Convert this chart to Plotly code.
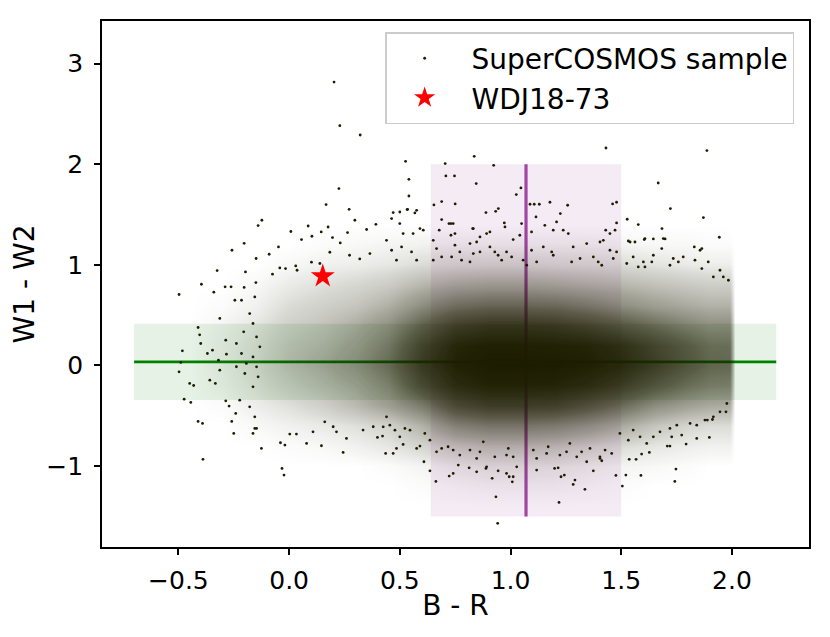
import plotly.graph_objects as go

# ---------------- data ----------------
# smoothed point density of the SuperCOSMOS cloud (fraction of area covered by points)
dens_br = [-0.6, -0.45, -0.3, -0.15, 0.0, 0.15, 0.3, 0.45, 0.6, 0.75, 0.9, 1.05,
           1.2, 1.35, 1.5, 1.65, 1.8, 1.9, 1.99, 2.01]
dens_w = [-1.4, -1.2, -1.0, -0.8, -0.6, -0.4, -0.2, 0.0, 0.2, 0.4, 0.6, 0.8,
          1.0, 1.2, 1.4, 1.6]
dens_cover = [
    [0, 0, 0, 0, 0, 0, 0, 0, 0, 0, 0, 0, 0, 0, 0, 0, 0, 0, 0, 0],
    [0, 0, 0, 0, 0, 0, 0, 0, 0.01, 0.02, 0.03, 0.03, 0.03, 0.02, 0.01, 0, 0, 0, 0, 0],
    [0, 0, 0, 0, 0, 0, 0, 0.01, 0.03, 0.06, 0.08, 0.08, 0.07, 0.05, 0.03, 0.02, 0.01, 0, 0, 0],
    [0, 0, 0, 0, 0.01, 0.02, 0.04, 0.07, 0.12, 0.18, 0.22, 0.22, 0.2, 0.15, 0.1, 0.07, 0.05, 0.04, 0.04, 0],
    [0, 0, 0, 0.02, 0.04, 0.06, 0.09, 0.13, 0.25, 0.42, 0.48, 0.48, 0.45, 0.38, 0.28, 0.18, 0.12, 0.1, 0.1, 0],
    [0, 0, 0.01, 0.05, 0.09, 0.14, 0.22, 0.33, 0.48, 0.72, 0.8, 0.8, 0.78, 0.68, 0.55, 0.4, 0.32, 0.28, 0.27, 0],
    [0, 0, 0.03, 0.08, 0.15, 0.22, 0.3, 0.44, 0.72, 0.9, 0.96, 0.96, 0.95, 0.9, 0.8, 0.65, 0.52, 0.46, 0.45, 0],
    [0, 0, 0.04, 0.1, 0.2, 0.28, 0.38, 0.54, 0.82, 0.97, 1.0, 1.0, 1.0, 0.98, 0.92, 0.8, 0.65, 0.56, 0.55, 0],
    [0, 0, 0.04, 0.09, 0.18, 0.24, 0.33, 0.48, 0.76, 0.94, 0.98, 0.98, 0.97, 0.95, 0.88, 0.75, 0.62, 0.53, 0.52, 0],
    [0, 0, 0.03, 0.07, 0.14, 0.19, 0.27, 0.39, 0.6, 0.78, 0.84, 0.84, 0.82, 0.75, 0.65, 0.55, 0.45, 0.4, 0.4, 0],
    [0, 0, 0.01, 0.04, 0.1, 0.14, 0.18, 0.26, 0.4, 0.52, 0.56, 0.56, 0.54, 0.48, 0.4, 0.33, 0.28, 0.25, 0.25, 0],
    [0, 0, 0, 0.02, 0.06, 0.09, 0.12, 0.16, 0.24, 0.3, 0.32, 0.32, 0.3, 0.27, 0.24, 0.2, 0.17, 0.15, 0.15, 0],
    [0, 0, 0, 0, 0.02, 0.04, 0.05, 0.07, 0.1, 0.12, 0.13, 0.13, 0.12, 0.11, 0.1, 0.08, 0.06, 0.05, 0.05, 0],
    [0, 0, 0, 0, 0, 0.01, 0.02, 0.03, 0.04, 0.04, 0.04, 0.04, 0.04, 0.04, 0.03, 0.02, 0.02, 0.01, 0.01, 0],
    [0, 0, 0, 0, 0, 0, 0, 0, 0, 0, 0, 0, 0, 0, 0, 0, 0, 0, 0, 0],
    [0, 0, 0, 0, 0, 0, 0, 0, 0, 0, 0, 0, 0, 0, 0, 0, 0, 0, 0, 0],
]

# individually visible points of the sample (B-R, W1-W2)
sparse_pts = [
    # upper left
    (0.203, 2.816), (0.229, 2.383), (0.321, 2.290), (0.526, 2.029), (0.541, 1.850),
    (0.225, 1.758), (0.541, 1.684), (0.167, 1.599), (0.271, 1.552), (0.535, 1.552),
    (-0.123, 1.443), (-0.140, 1.390), (0.297, 1.443), (0.470, 1.519), (0.086, 1.386),
    (0.008, 1.331), (0.145, 1.327), (0.176, 1.376), (0.264, 1.321), (0.350, 1.351),
    (0.392, 1.403), (-0.203, 1.214), (-0.258, 1.145), (0.056, 1.251), (0.103, 1.284),
    (0.196, 1.271), (0.231, 1.218), (-0.048, 1.178), (-0.149, 1.063), (-0.090, 1.105),
    (-0.325, 0.943), (-0.197, 0.929), (-0.396, 0.807), (-0.497, 0.705), (-0.340, 0.728),
    (-0.289, 0.781), (-0.262, 0.781), (-0.203, 0.775), (-0.150, 0.824), (-0.075, 0.907),
    (-0.042, 0.969), (-0.016, 0.963), (0.030, 0.989), (0.036, 0.946), (0.101, 1.026),
    (0.139, 1.013), (0.184, 1.125), (0.273, 1.095), (0.319, 1.059), (0.365, 1.112),
    # left
    (-0.482, 0.145), (-0.411, 0.377), (-0.404, 0.304), (-0.399, 0.218), (-0.369, 0.119),
    (-0.497, -0.063), (-0.489, 0.030), (-0.449, -0.179), (-0.431, -0.199), (-0.474, -0.335),
    (-0.444, -0.367), (-0.411, -0.556), (-0.391, -0.576), (-0.389, -0.933), (-0.346, 0.152),
    (-0.313, 0.467), (-0.286, 0.251), (-0.250, -0.675), (-0.259, -0.556), (-0.286, -0.351),
    (-0.271, -0.404), (-0.333, -0.179), (-0.358, -0.146), (-0.313, -0.047), (-0.319, 0.053),
    (-0.283, 0.112), (-0.241, -0.477), (-0.223, -0.345), (-0.200, -0.080), (-0.238, -0.013),
    (-0.193, 0.020), (-0.215, 0.119), (-0.238, 0.218), (-0.205, 0.334), (-0.155, -0.510),
    (-0.155, -0.626), (-0.125, -0.824), (-0.178, -0.411), (-0.163, -0.212), (-0.140, -0.113),
    (-0.147, -0.014), (-0.163, 0.085), (-0.132, 0.185), (-0.147, 0.284), (-0.163, 0.417),
    (-0.178, 0.516), (-0.245, 0.648), (-0.215, 0.648), (-0.155, 0.681), (-0.032, -1.023),
    (-0.023, -1.089),
    # lower left
    (-0.039, -0.768), (-0.019, -0.791), (0.079, -0.775), (0.146, -0.798), (0.244, -0.864),
    (0.436, -0.874), (0.470, -0.874), (0.485, -0.824), (0.515, -0.785), (0.003, -0.682),
    (0.033, -0.682), (0.108, -0.659), (0.214, -0.659), (0.259, -0.725), (0.399, -0.715),
    (0.161, -0.560), (0.334, -0.642), (0.380, -0.609), (0.199, -0.609), (-0.163, -0.675),
    (-0.147, -0.626),
    # upper right
    (1.431, 2.161), (1.887, 2.135), (0.836, 2.078), (0.705, 2.006), (0.924, 1.989),
    (0.708, 1.883), (0.747, 1.883), (0.845, 1.807), (1.667, 1.813), (1.047, 1.764),
    (1.026, 1.698), (0.689, 1.629), (0.654, 1.595), (0.750, 1.605), (1.088, 1.602),
    (1.107, 1.602), (1.130, 1.602), (1.178, 1.622), (1.258, 1.592), (1.461, 1.605),
    (1.479, 1.622), (1.722, 1.559), (1.871, 1.470), (1.943, 1.274), (0.889, 1.519),
    (0.933, 1.532), (1.225, 1.509), (1.115, 1.476), (1.527, 1.453), (1.684, 1.360),
    (1.645, 1.257), (1.604, 1.251), (1.698, 1.257), (0.972, 1.416), (0.829, 1.360),
    (0.731, 1.410), (1.208, 1.426), (1.238, 1.344), (1.430, 1.344), (1.472, 1.344),
    (1.830, 1.178), (1.864, 1.162), (1.540, 1.227), (0.463, 1.460), (0.500, 1.525),
    (0.533, 1.549), (0.568, 1.516), (0.576, 1.542), (1.577, 1.400), (1.690, 1.261),
    (1.532, 1.237), (1.562, 1.227), (1.607, 1.261),
    # upper intermediate zone
    (0.689, 1.450), (0.722, 1.410), (0.741, 1.410), (0.678, 1.344), (0.749, 1.311),
    (0.731, 1.294), (0.832, 1.360), (0.945, 1.559), (0.975, 1.377), (0.892, 1.311),
    (0.907, 1.327), (0.862, 1.277), (0.847, 1.227), (1.012, 1.251), (1.042, 1.294),
    (1.050, 1.410), (1.095, 1.327), (1.155, 1.393), (1.193, 1.344), (1.261, 1.311),
    (1.283, 1.178), (1.344, 1.211), (1.314, 1.063), (1.276, 1.029), (1.404, 1.227),
    (1.419, 1.244), (1.449, 1.311), (1.479, 1.416), (1.449, 1.145), (1.479, 1.128),
    (1.464, 1.063), (1.374, 1.079), (1.396, 1.029), (1.412, 0.996), (1.095, 1.145),
    (1.148, 1.178), (1.186, 1.128), (1.193, 1.095), (1.057, 1.046), (1.073, 0.996),
    (1.118, 1.029), (0.982, 1.128), (1.005, 1.079), (0.907, 1.178), (0.929, 1.128),
    (0.944, 1.095), (0.960, 1.046), (0.817, 1.211), (0.832, 1.112), (0.862, 1.128),
    (0.817, 1.029), (0.749, 1.195), (0.771, 1.128), (0.779, 1.046), (0.734, 1.079),
    (0.651, 1.244), (0.666, 1.162), (0.689, 1.079), (0.651, 1.046), (0.591, 1.360),
    (0.606, 1.344), (0.560, 1.311), (0.500, 1.410), (0.515, 1.311), (0.440, 1.244),
    (0.463, 1.145), (0.508, 1.178), (0.553, 1.128), (0.576, 1.046), (0.485, 1.046),
    (1.645, 1.095), (1.638, 1.029), (1.607, 0.979), (1.683, 1.162), (1.735, 1.063),
    (1.758, 1.029), (1.780, 1.079), (1.720, 0.996), (1.856, 1.145), (1.833, 1.046),
    (1.864, 0.963), (1.893, 1.029), (1.946, 0.946), (1.961, 0.880), (1.984, 0.847),
    (1.916, 0.880), (1.554, 1.079), (1.525, 1.013), (1.577, 0.979), (1.600, 1.029),
    # lower right
    (0.942, -1.569), (0.934, -1.305), (1.219, -1.361), (1.336, -1.231), (1.283, -1.182),
    (1.291, -1.139), (0.663, -1.152), (0.723, -1.099), (0.741, -1.073), (0.636, -1.047),
    (0.609, -0.957), (0.917, -1.122), (1.008, -1.156), (1.012, -1.106), (0.994, -1.106),
    (1.228, -1.106), (1.243, -1.089), (1.476, -1.093), (1.505, -1.199), (1.521, -1.089),
    (1.589, -1.093), (1.747, -1.030), (1.742, -1.152), (1.708, -0.801), (1.720, -0.801),
    (1.841, -0.725), (1.898, -0.715), (1.793, -0.781), (1.627, -0.864), (1.592, -0.881),
    (1.567, -0.933), (1.536, -0.933), (1.457, -0.874), (1.412, -0.947), (0.422, -0.702),
    (0.889, -1.023), (0.813, -1.017), (0.847, -1.057), (0.764, -0.990), (0.944, -1.047),
    (0.982, -1.073), (1.199, -1.023), (1.215, -1.017), (1.118, -1.040), (1.374, -1.047),
    (1.404, -0.924), (1.973, -0.461), (1.912, -0.537), (1.889, -0.543), (1.728, -0.709),
    # lower intermediate zone
    (0.440, -0.510), (0.455, -0.593), (0.425, -0.610), (0.478, -0.643), (0.500, -0.709),
    (0.523, -0.626), (0.546, -0.643), (0.576, -0.824), (0.591, -0.801), (0.613, -0.675),
    (0.636, -0.742), (0.666, -0.858), (0.689, -0.824), (0.718, -0.808), (0.741, -0.841),
    (0.771, -0.891), (0.817, -0.841), (0.847, -0.924), (0.862, -0.858), (0.877, -0.759),
    (0.892, -1.007), (0.929, -0.908), (0.982, -0.891), (0.990, -0.824), (1.012, -0.908),
    (1.028, -1.007), (1.103, -0.841), (1.118, -0.924), (1.163, -0.874), (1.170, -0.808),
    (1.223, -0.891), (1.253, -0.858), (1.268, -0.775), (1.299, -0.908), (1.321, -0.858),
    (1.344, -0.957), (1.359, -0.824), (1.404, -0.908), (1.427, -0.841), (1.494, -0.675),
    (1.532, -0.742), (1.554, -0.642), (1.585, -0.709), (1.615, -0.775), (1.645, -0.709),
    (1.675, -0.659), (1.720, -0.626), (1.751, -0.593), (1.773, -0.692), (1.811, -0.576),
    (1.841, -0.593), (1.878, -0.543), (1.916, -0.510), (1.946, -0.461), (1.977, -0.378),
]
sparse_br = [p[0] for p in sparse_pts]
sparse_w = [p[1] for p in sparse_pts]

# target
target_name = "WDJ18-73"
target_br = [0.152]
target_w = [0.887]

# reference regions
wise_mean = 0.035      # W1-W2 mean
wise_half = 0.379      # half width of W1-W2 band
wise_br_span = [-0.7, 2.2]
br_mean = 1.07         # B-R mean
br_half = 0.43         # half width of B-R band
br_w_span = [-1.5, 2.0]

x_ticks = [-0.5, 0.0, 0.5, 1.0, 1.5, 2.0]
x_ticklabels = ["\u22120.5", "0.0", "0.5", "1.0", "1.5", "2.0"]
y_ticks = [-1, 0, 1, 2, 3]
y_ticklabels = ["\u22121", "0", "1", "2", "3"]

# ---------------- figure ----------------
FONT = "DejaVu Sans"
DOT = "rgb(28,28,0)"
NB = "\u00a0"

fig = go.Figure()

fig.add_trace(go.Heatmap(
    x=dens_br, y=dens_w, z=dens_cover, zmin=0, zmax=1, zsmooth="best",
    colorscale=[[0, "rgba(28,28,0,0)"], [0.1, "rgba(28,28,0,0.16)"],
                [0.3, "rgba(28,28,0,0.4)"], [0.6, "rgba(28,28,0,0.7)"],
                [1, "rgba(28,28,0,1)"]],
    showscale=False, hoverinfo="skip", showlegend=False,
))

fig.add_trace(go.Scatter(
    x=sparse_br, y=sparse_w, mode="markers",
    name=NB + "SuperCOSMOS sample",
    marker=dict(size=2.8, color=DOT, line=dict(width=0)),
))

fig.add_trace(go.Scatter(
    x=target_br, y=target_w, mode="markers", name=NB + target_name,
    marker=dict(symbol="star", size=18, color="red", line=dict(width=0)),
))

# bands and lines (below the points)
fig.add_shape(type="rect", layer="below", xref="x", yref="y",
              x0=wise_br_span[0], x1=wise_br_span[1],
              y0=wise_mean - wise_half, y1=wise_mean + wise_half,
              fillcolor="rgba(0,128,0,0.1)", line=dict(width=0))
fig.add_shape(type="rect", layer="below", xref="x", yref="y",
              x0=br_mean - br_half, x1=br_mean + br_half,
              y0=br_w_span[0], y1=br_w_span[1],
              fillcolor="rgba(128,0,128,0.08)", line=dict(width=0))
fig.add_shape(type="line", layer="below", xref="x", yref="y",
              x0=wise_br_span[0], x1=wise_br_span[1], y0=wise_mean, y1=wise_mean,
              line=dict(color="#008000", width=2.8))
fig.add_shape(type="line", layer="below", xref="x", yref="y",
              x0=br_mean, x1=br_mean, y0=br_w_span[0], y1=br_w_span[1],
              line=dict(color="rgba(128,0,128,0.7)", width=3.2))

axis_common = dict(
    showline=True, linecolor="black", linewidth=1.6, mirror=True,
    ticks="outside", ticklen=6, tickwidth=1.6, tickcolor="black",
    showgrid=False, zeroline=False, automargin=False,
    tickfont=dict(family=FONT, size=25, color="black"),
)

# the page body adds an 8 px offset, so the figure is 8 px smaller with
# top/left margins reduced accordingly
fig.update_layout(
    width=822, height=629,
    margin=dict(l=94, r=21, t=13, b=90),
    paper_bgcolor="white", plot_bgcolor="white",
    font=dict(family=FONT, color="black"),
    xaxis=dict(range=[-0.845, 2.348], tickvals=x_ticks, ticktext=x_ticklabels,
               ticklabelstandoff=4,
               title=dict(text="B - R", font=dict(family=FONT, size=28), standoff=2),
               **axis_common),
    yaxis=dict(range=[-1.804, 3.423], tickvals=y_ticks, ticktext=y_ticklabels,
               ticklabelstandoff=6,
               title=dict(text="W1 - W2", font=dict(family=FONT, size=28), standoff=8),
               **axis_common),
    legend=dict(x=0.979, y=0.979, xanchor="right", yanchor="top",
                bgcolor="rgba(255,255,255,0.8)", bordercolor="#cccccc", borderwidth=1.5,
                font=dict(family=FONT, size=28, color="black"),
                itemwidth=66),
    showlegend=True,
)

fig.write_html("out.html")
